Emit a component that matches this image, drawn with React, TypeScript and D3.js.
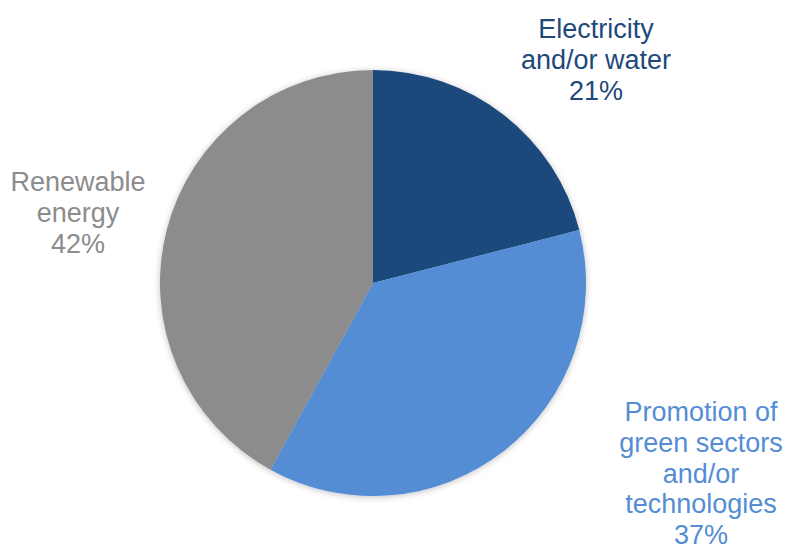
import React from "react";
import * as d3 from "d3";

const categories = ["Electricity and/or water", "Promotion of green sectors and/or technologies", "Renewable energy"];
const values = [21, 37, 42];
const labelLines = [
  ["Electricity", "and/or water", "21%"],
  ["Promotion of", "green sectors", "and/or", "technologies", "37%"],
  ["Renewable", "energy", "42%"],
];
const colors = ["#1F487B", "#548DD4", "#8C8C8C"];
const labelPos = [
  { x: 596, y: 38 },
  { x: 701, y: 421 },
  { x: 78, y: 191 },
];

export default function App() {
  const W = 788, H = 552;
  const cx = 373, cy = 283, r = 213;
  const pie = d3.pie<number>().sort(null).value((d) => d);
  const arcs = pie(values);
  const arc = d3.arc<d3.PieArcDatum<number>>().innerRadius(0).outerRadius(r);
  return (
    <svg width={W} height={H} style={{ position: "absolute", left: 0, top: 0, background: "#fff" }}>
      <defs>
        <filter id="sh" x="-20%" y="-20%" width="140%" height="140%">
          <feDropShadow dx="0" dy="1" stdDeviation="3" floodColor="#000" floodOpacity="0.25" />
        </filter>
      </defs>
      <g transform={`translate(${cx},${cy})`} filter="url(#sh)">
        {arcs.map((a, i) => (
          <path key={categories[i]} d={arc(a) || ""} fill={colors[i]} />
        ))}
      </g>
      {labelLines.map((lines, i) => (
        <text
          key={i}
          x={labelPos[i].x}
          y={labelPos[i].y}
          textAnchor="middle"
          fill={colors[i]}
          fontFamily="'Liberation Sans', Arial, Helvetica, sans-serif"
          fontSize={27}
        >
          {lines.map((l, j) => (
            <tspan key={j} x={labelPos[i].x} dy={j === 0 ? 0 : 30.8}>
              {l}
            </tspan>
          ))}
        </text>
      ))}
    </svg>
  );
}
